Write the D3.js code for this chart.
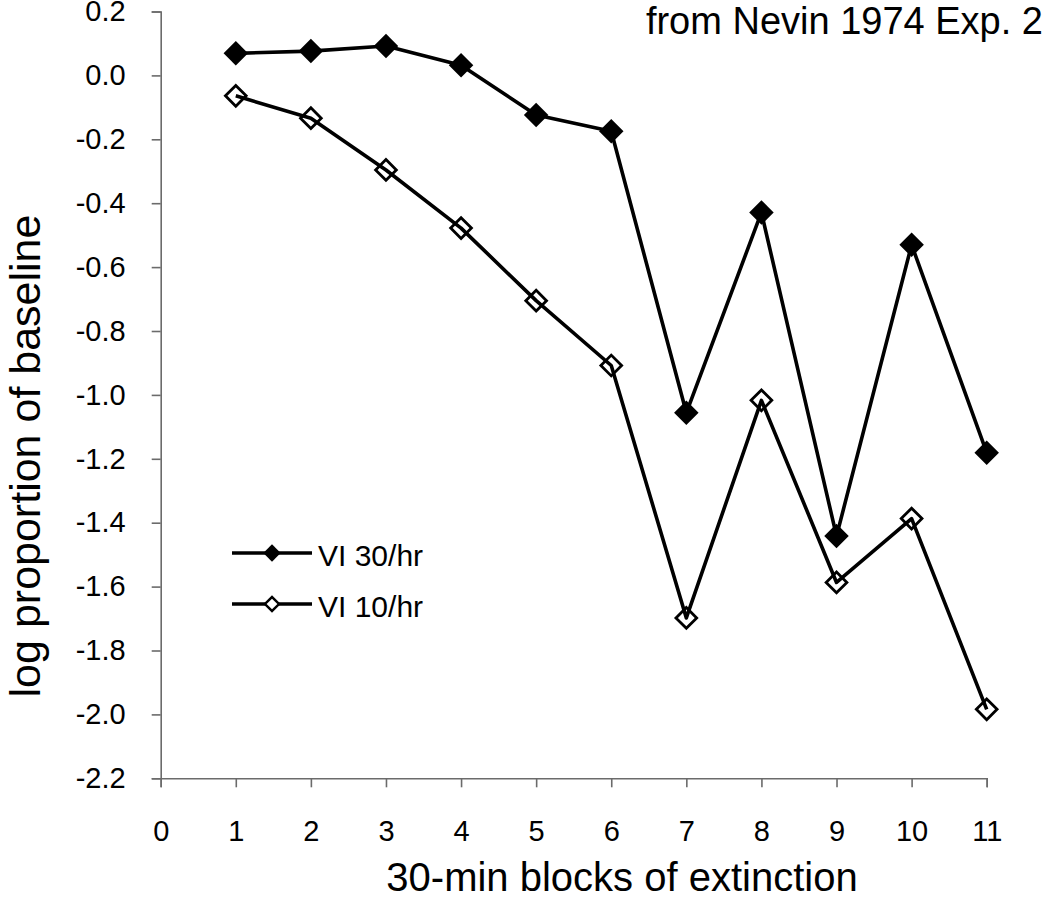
<!DOCTYPE html>
<html><head><meta charset="utf-8">
<script src="https://cdn.jsdelivr.net/npm/d3@7/dist/d3.min.js"></script>
<style>body{margin:0;background:#fff}svg{display:block}</style>
</head><body><svg id="c" width="1050" height="901"></svg>
<script>
const blocks = [1, 2, 3, 4, 5, 6, 7, 8, 9, 10, 11];
const vi30 = [0.069, 0.076, 0.092, 0.032, -0.124, -0.175, -1.056, -0.429, -1.442, -0.530, -1.181];
const vi10 = [-0.064, -0.134, -0.296, -0.478, -0.705, -0.908, -1.698, -1.017, -1.587, -1.387, -1.984];
const seriesNames = ["VI 30/hr", "VI 10/hr"];
const xTicks = [0, 1, 2, 3, 4, 5, 6, 7, 8, 9, 10, 11];
const yTicks = [0.2, 0.0, -0.2, -0.4, -0.6, -0.8, -1.0, -1.2, -1.4, -1.6, -1.8, -2.0, -2.2];
const yTickLabels = ["0.2", "0.0", "-0.2", "-0.4", "-0.6", "-0.8", "-1.0", "-1.2", "-1.4", "-1.6", "-1.8", "-2.0", "-2.2"];
const chartTitle = "from Nevin 1974 Exp. 2";
const xTitle = "30-min blocks of extinction";
const yTitle = "log proportion of baseline";

const FONT = "'Liberation Sans', Arial, Helvetica, sans-serif";
const svg = d3.select("#c").style("font-family", FONT);
const x = d3.scaleLinear().domain([0, 11]).range([160.7, 986.7]);
const y = d3.scaleLinear().domain([-2.2, 0.2]).range([778.3, 11.5]);
const axisColor = "#6b6b6b";

// Y axis
const gy = svg.append("g").attr("transform", `translate(${x(0)},0)`)
  .call(d3.axisLeft(y).tickValues(yTicks).tickSize(9).tickPadding(26)
    .tickFormat((d, i) => yTickLabels[i]));
gy.select(".domain").attr("stroke", axisColor).attr("stroke-width", 1.6);
gy.selectAll(".tick line").attr("stroke", axisColor).attr("stroke-width", 1.6);
gy.selectAll(".tick text").attr("fill", "#000").style("font-size", "29px").style("font-family", FONT);

// X axis
const gx = svg.append("g").attr("transform", `translate(0,${y(-2.2)})`)
  .call(d3.axisBottom(x).tickValues(xTicks).tickSize(9).tickPadding(33).tickFormat(d3.format("d")));
gx.select(".domain").attr("stroke", axisColor).attr("stroke-width", 1.6);
gx.selectAll(".tick line").attr("stroke", axisColor).attr("stroke-width", 1.6);
gx.selectAll(".tick text").attr("fill", "#000").style("font-size", "29px").style("font-family", FONT);

// Titles
svg.append("text").attr("x", 1043).attr("y", 34).attr("text-anchor", "end")
  .style("font-size", "38px").text(chartTitle);
svg.append("text").attr("x", 622).attr("y", 891).attr("text-anchor", "middle")
  .style("font-size", "40px").text(xTitle);
svg.append("text").attr("transform", "translate(40,456) rotate(-90)").attr("text-anchor", "middle")
  .style("font-size", "43px").text(yTitle);

// Series
const line = d3.line().x((d, i) => x(blocks[i])).y(d => y(d));
const diamond = s => d3.symbol(d3.symbolSquare, s);
const series = [
  {name: seriesNames[0], values: vi30, filled: true},
  {name: seriesNames[1], values: vi10, filled: false}
];
series.forEach(s => {
  svg.append("path").datum(s.values).attr("d", line)
    .attr("fill", "none").attr("stroke", "#000").attr("stroke-width", 3.6).attr("stroke-linejoin", "round");
});
series.forEach(s => {
  svg.append("g").selectAll("path").data(s.values).join("path")
    .attr("transform", (d, i) => `translate(${x(blocks[i])},${y(d)}) rotate(45)`)
    .attr("d", diamond(s.filled ? 300 : 215)())
    .attr("fill", s.filled ? "#000" : "none")
    .attr("stroke", "#000").attr("stroke-width", s.filled ? 0 : 2.8);
});

// Legend
const legY = [553, 604];
series.forEach((s, i) => {
  const g = svg.append("g");
  g.append("line").attr("x1", 232).attr("x2", 312).attr("y1", legY[i]).attr("y2", legY[i])
    .attr("stroke", "#000").attr("stroke-width", 3.6);
  g.append("path").attr("transform", `translate(272,${legY[i]}) rotate(45)`)
    .attr("d", diamond(s.filled ? 150 : 100)())
    .attr("fill", s.filled ? "#000" : "#fff").attr("stroke", "#000").attr("stroke-width", s.filled ? 0 : 2.4);
  g.append("text").attr("x", 318).attr("y", legY[i] + 13).style("font-size", "30px").text(s.name);
});
</script></body></html>
